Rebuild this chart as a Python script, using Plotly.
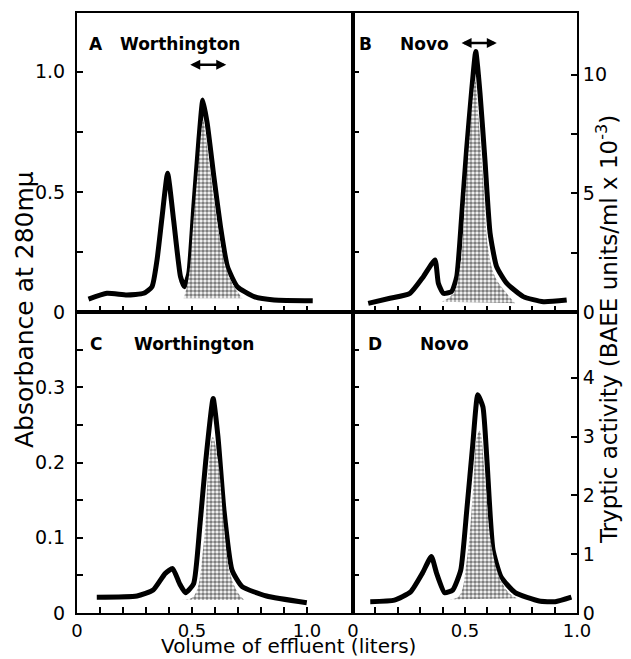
import plotly.graph_objects as go

# absorbance at 280 mu (left axes)
a_x = [0.05, 0.13, 0.217, 0.29, 0.326, 0.348, 0.37, 0.394, 0.42, 0.45, 0.467, 0.486, 0.508, 0.53, 0.547,
       0.566, 0.595, 0.624, 0.654, 0.697, 0.77, 0.857, 1.025]
a_y = [0.054, 0.078, 0.071, 0.078, 0.105, 0.217, 0.397, 0.578, 0.383, 0.147, 0.105, 0.16, 0.44, 0.717, 0.883,
       0.786, 0.564, 0.355, 0.189, 0.105, 0.064, 0.05, 0.047]
b_x = [0.068, 0.165, 0.254, 0.314, 0.366, 0.381, 0.403, 0.44, 0.463, 0.485, 0.507, 0.53, 0.548, 0.567, 0.589,
       0.612, 0.641, 0.686, 0.76, 0.85, 0.954]
b_y = [0.036, 0.057, 0.078, 0.147, 0.217, 0.12, 0.078, 0.085, 0.147, 0.397, 0.675, 0.925, 1.085, 0.911, 0.633,
       0.328, 0.189, 0.12, 0.064, 0.043, 0.05]
c_x = [0.086, 0.261, 0.331, 0.384, 0.416, 0.446, 0.472, 0.507, 0.534, 0.56, 0.592, 0.613, 0.639, 0.674, 0.718,
       0.824, 0.999]
c_y = [0.021, 0.0226, 0.0305, 0.0527, 0.059, 0.039, 0.027, 0.039, 0.115, 0.203, 0.285, 0.234, 0.137, 0.057,
       0.035, 0.0226, 0.0137]
d_x = [0.077, 0.185, 0.257, 0.31, 0.35, 0.373, 0.409, 0.445, 0.481, 0.508, 0.535, 0.557, 0.58, 0.598, 0.625,
       0.661, 0.724, 0.831, 0.903, 0.975]
d_y = [0.015, 0.017, 0.028, 0.053, 0.075, 0.053, 0.027, 0.0305, 0.057, 0.137, 0.225, 0.29, 0.274, 0.203, 0.084,
       0.048, 0.027, 0.016, 0.015, 0.021]

# tryptic activity (right axes, BAEE units/ml x 10^-3)
ta_x = [0.464, 0.486, 0.508, 0.53, 0.549, 0.566, 0.588, 0.617, 0.646, 0.683, 0.719]
ta_y = [0.58, 1.49, 4.02, 6.41, 8.1, 6.97, 5.29, 3.32, 1.91, 1.07, 0.58]
tb_x = [0.396, 0.448, 0.478, 0.5, 0.522, 0.537, 0.546, 0.56, 0.582, 0.604, 0.634, 0.686, 0.723]
tb_y = [0.43, 0.79, 1.91, 4.73, 7.54, 9.23, 9.79, 8.24, 5.43, 2.62, 1.49, 0.79, 0.37]
tc_x = [0.446, 0.507, 0.551, 0.569, 0.59, 0.613, 0.639, 0.665, 0.7, 0.727]
tc_y = [0.22, 0.28, 1.19, 2.32, 3.0, 2.6, 1.47, 0.68, 0.34, 0.22]
td_x = [0.409, 0.472, 0.508, 0.535, 0.553, 0.566, 0.589, 0.616, 0.652, 0.696, 0.732]
td_y = [0.23, 0.28, 0.9, 2.04, 3.0, 3.1, 2.32, 1.19, 0.62, 0.34, 0.25]

# arrows over the activity peaks (x from, x to, height)
arrow_a = [0.486, 0.649, 1.03]
arrow_b = [0.478, 0.642, 1.12]

x_ticks = [0.1, 0.2, 0.3, 0.4, 0.5, 0.6, 0.7, 0.8, 0.9, 1.0]
x_text = ['', '', '', '', '0.5', '', '', '', '', '1.0']
top_ticks = [0, 0.25, 0.5, 0.75, 1.0]
top_text = ['0', '', '0.5', '', '1.0']
bot_ticks = [0, 0.05, 0.1, 0.15, 0.2, 0.25, 0.3, 0.35]
bot_text = ['0', '', '0.1', '', '0.2', '', '0.3', '']
rt_ticks = [0, 2.5, 5, 7.5, 10]
rt_text = ['0', '', '5', '', '10']
rb_ticks = [0, 1, 2, 3, 4]
rb_text = ['0', '1', '2', '3', '4']

FONT = "DejaVu Sans"
stipple = dict(shape='.', fgcolor='black', bgcolor='white', size=4, solidity=0.65)

# the page body has an 8px margin, so work in page pixels minus 8
W, H, OFF = 623, 651, 8
def px(v):
    return (v - OFF) / W
def py(v):
    return 1 - (v - OFF) / H

fig = go.Figure()

for tx, ty, ya, xa in [(ta_x, ta_y, 'y5', 'x'), (tb_x, tb_y, 'y6', 'x2'),
                       (tc_x, tc_y, 'y7', 'x3'), (td_x, td_y, 'y8', 'x4')]:
    fig.add_trace(go.Scatter(x=tx, y=ty, xaxis=xa, yaxis=ya, mode='lines', fill='toself',
                             fillcolor='white', fillpattern=stipple, line=dict(width=0, shape='spline'),
                             hoverinfo='skip'))

for cx, cy, xa, ya in [(a_x, a_y, 'x', 'y'), (b_x, b_y, 'x2', 'y2'),
                       (c_x, c_y, 'x3', 'y3'), (d_x, d_y, 'x4', 'y4')]:
    fig.add_trace(go.Scatter(x=cx, y=cy, xaxis=xa, yaxis=ya, mode='lines',
                             line=dict(color='black', width=5, shape='spline', smoothing=0.5)))

L, M, R = px(77), px(353), px(577)
B0, MID, T = py(613), py(312), py(13)

ax = dict(showline=True, linecolor='black', linewidth=2, mirror=True, ticks='inside', ticklen=6,
          tickwidth=2, tickcolor='black', showgrid=False, zeroline=False, automargin=False,
          tickfont=dict(family=FONT, size=19, color='black'))

fig.update_layout(
    width=W, height=H, margin=dict(l=0, r=0, t=0, b=0),
    plot_bgcolor='white', paper_bgcolor='white', showlegend=False,
    xaxis=dict(ax, domain=[L, M], anchor='y', range=[0, 1.2], tickvals=x_ticks, showticklabels=False),
    yaxis=dict(ax, domain=[MID, T], anchor='x', range=[0, 1.245], tickvals=top_ticks, ticktext=top_text,
               ticklabelstandoff=6),
    xaxis2=dict(ax, domain=[M, R], anchor='y2', range=[0, 1.0], tickvals=x_ticks, showticklabels=False),
    yaxis2=dict(ax, domain=[MID, T], anchor='x2', range=[0, 1.245], tickvals=top_ticks, showticklabels=False),
    xaxis3=dict(ax, domain=[L, M], anchor='y3', range=[0, 1.2], tickvals=[0] + x_ticks,
                ticktext=['0'] + x_text, tickfont=dict(family=FONT, size=18, color='black')),
    yaxis3=dict(ax, domain=[B0, MID], anchor='x3', range=[0, 0.4], tickvals=bot_ticks, ticktext=bot_text,
                ticklabelstandoff=6),
    xaxis4=dict(ax, domain=[M, R], anchor='y4', range=[0, 1.0], tickvals=[0] + x_ticks,
                ticktext=['0'] + x_text, tickfont=dict(family=FONT, size=18, color='black')),
    yaxis4=dict(ax, domain=[B0, MID], anchor='x4', range=[0, 0.4], tickvals=bot_ticks, showticklabels=False),
    yaxis5=dict(overlaying='y', anchor='x', range=[0, 12.6], visible=False),
    yaxis6=dict(ax, overlaying='y2', anchor='x2', side='right', range=[0, 12.6], mirror=False,
                tickvals=rt_ticks, ticktext=rt_text),
    yaxis7=dict(overlaying='y3', anchor='x3', range=[0, 5.12], visible=False),
    yaxis8=dict(ax, overlaying='y4', anchor='x4', side='right', range=[0, 5.12], mirror=False,
                tickvals=rb_ticks, ticktext=rb_text),
)

lab = dict(family=FONT, size=17, color='black', weight='bold')
for letter, name, xr, yr, lx, nx in [('A', 'Worthington', 'x domain', 'y domain', 0.036, 0.149),
                                     ('B', 'Novo', 'x2 domain', 'y2 domain', 0.02, 0.2),
                                     ('C', 'Worthington', 'x3 domain', 'y3 domain', 0.04, 0.2),
                                     ('D', 'Novo', 'x4 domain', 'y4 domain', 0.058, 0.29)]:
    fig.add_annotation(text=letter, xref=xr, yref=yr, x=lx, y=0.935, xanchor='left', showarrow=False, font=lab)
    fig.add_annotation(text=name, xref=xr, yref=yr, x=nx, y=0.935, xanchor='left', showarrow=False, font=lab)

for arr, xa, ya in [(arrow_a, 'x', 'y'), (arrow_b, 'x2', 'y2')]:
    fig.add_annotation(x=arr[1], y=arr[2], ax=arr[0], ay=arr[2], xref=xa, yref=ya, axref=xa, ayref=ya,
                       text='', showarrow=True, arrowhead=2, arrowside='end+start', arrowwidth=2.5,
                       arrowsize=0.8, arrowcolor='black')

fig.add_annotation(text='Absorbance at 280mμ', xref='paper', yref='paper', x=px(24), y=py(310),
                   xanchor='center', yanchor='middle', textangle=-90, showarrow=False,
                   font=dict(family=FONT, size=25, color='black'))
fig.add_annotation(text='Tryptic activity (BAEE units/ml x 10<sup>-3</sup>)', xref='paper', yref='paper',
                   x=px(607), y=py(330), xanchor='center', yanchor='middle', textangle=-90, showarrow=False,
                   font=dict(family=FONT, size=23, color='black'))
fig.add_annotation(text='Volume of effluent (liters)', xref='paper', yref='paper', x=px(288), y=py(646),
                   xanchor='center', yanchor='middle', showarrow=False,
                   font=dict(family=FONT, size=20, color='black'))

fig.write_html("out.html")
